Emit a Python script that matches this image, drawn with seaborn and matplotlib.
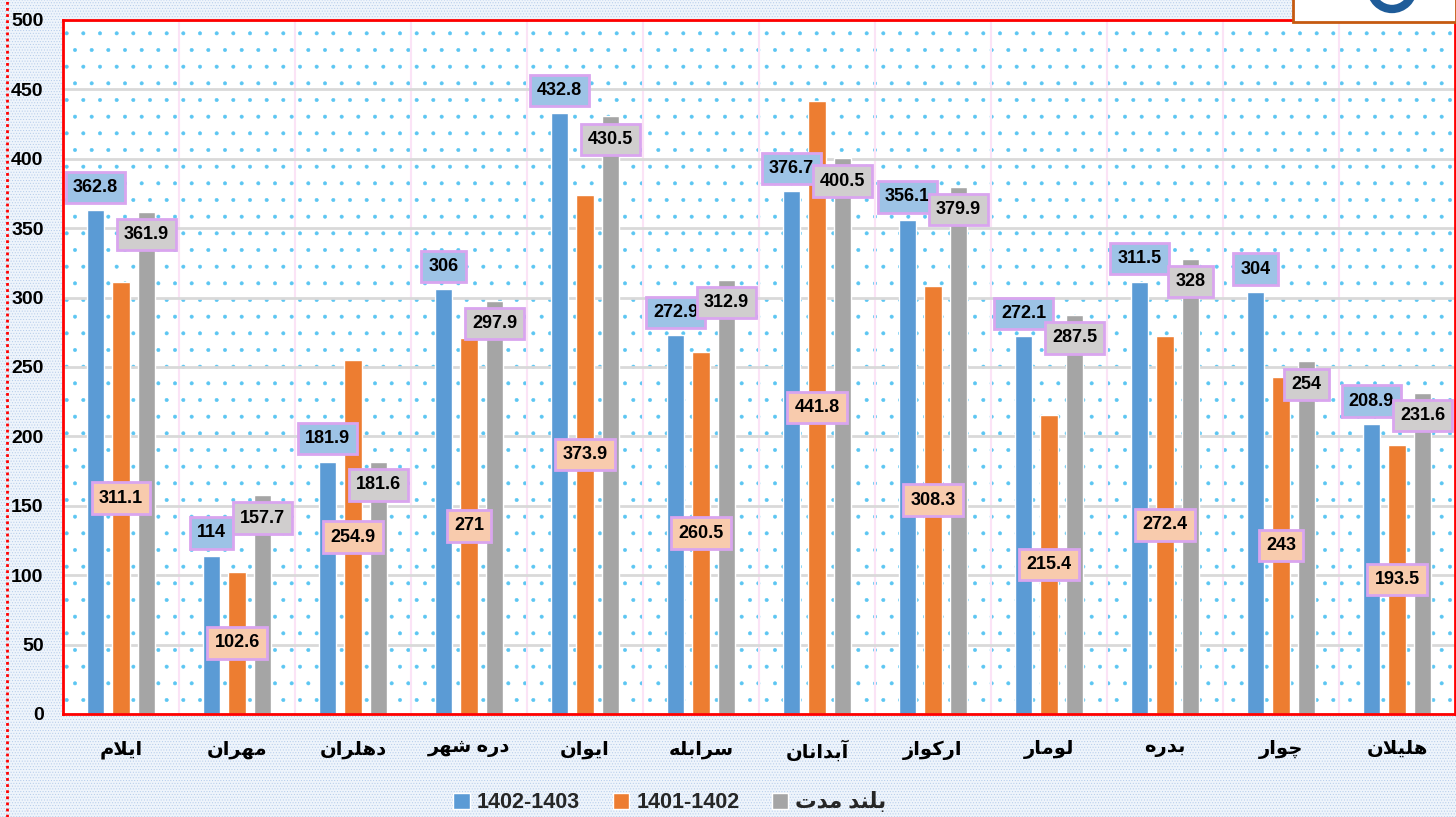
import numpy as np
import pandas as pd
import matplotlib
matplotlib.use('Agg')
import matplotlib.pyplot as plt
import seaborn as sns
from matplotlib.patches import Rectangle, Ellipse
from matplotlib.lines import Line2D
from matplotlib import font_manager

# ---------------- data ----------------
cities = ['ایلام', 'مهران', 'دهلران', 'دره شهر', 'ایوان', 'سرابله',
          'آبدانان', 'ارکواز', 'لومار', 'بدره', 'چوار', 'هلیلان']
series_names = ['1402-1403', '1401-1402', 'بلند مدت']
v_1402_1403 = [362.8, 114, 181.9, 306, 432.8, 272.9, 376.7, 356.1, 272.1, 311.5, 304, 208.9]
v_1401_1402 = [311.1, 102.6, 254.9, 271, 373.9, 260.5, 441.8, 308.3, 215.4, 272.4, 243, 193.5]
v_long_term = [361.9, 157.7, 181.6, 297.9, 430.5, 312.9, 400.5, 379.9, 287.5, 328, 254, 231.6]
y_ticks = [0, 50, 100, 150, 200, 250, 300, 350, 400, 450, 500]

bar_colors = ['#5b9bd5', '#ed7d31', '#a5a5a5']
label_fills = ['#9dc3e6', '#f8cbad', '#d0cece']

# ---------------- minimal Arabic/Persian shaping ----------------
FORMS = {
    'ا': (0xFE8D, 0xFE8E, None, None),
    'آ': (0xFE81, 0xFE82, None, None),
    'ب': (0xFE8F, 0xFE90, 0xFE91, 0xFE92),
    'ت': (0xFE95, 0xFE96, 0xFE97, 0xFE98),
    'د': (0xFEA9, 0xFEAA, None, None),
    'ر': (0xFEAD, 0xFEAE, None, None),
    'ز': (0xFEAF, 0xFEB0, None, None),
    'س': (0xFEB1, 0xFEB2, 0xFEB3, 0xFEB4),
    'ش': (0xFEB5, 0xFEB6, 0xFEB7, 0xFEB8),
    'ل': (0xFEDD, 0xFEDE, 0xFEDF, 0xFEE0),
    'م': (0xFEE1, 0xFEE2, 0xFEE3, 0xFEE4),
    'ن': (0xFEE5, 0xFEE6, 0xFEE7, 0xFEE8),
    'ه': (0xFEE9, 0xFEEA, 0xFEEB, 0xFEEC),
    'و': (0xFEED, 0xFEEE, None, None),
    'ی': (0xFBFC, 0xFBFD, 0xFBFE, 0xFBFF),
    'ک': (0xFB8E, 0xFB8F, 0xFB90, 0xFB91),
    'چ': (0xFB7A, 0xFB7B, 0xFB7C, 0xFB7D),
}
LAM_ALEF = {'ا': (0xFEFB, 0xFEFC), 'آ': (0xFEF5, 0xFEF6)}


def _dual(ch):
    return ch in FORMS and FORMS[ch][2] is not None


def shape(text):
    if not any(ch in FORMS for ch in text):
        return text
    out = []
    n = len(text)
    i = 0
    while i < n:
        ch = text[i]
        if ch not in FORMS:
            out.append(ch)
            i += 1
            continue
        prev = text[i - 1] if i > 0 else ''
        jp = _dual(prev)
        if ch == 'ل' and i + 1 < n and text[i + 1] in LAM_ALEF:
            out.append(chr(LAM_ALEF[text[i + 1]][1 if jp else 0]))
            i += 2
            continue
        nxt = text[i + 1] if i + 1 < n else ''
        jn = _dual(ch) and nxt in FORMS
        f = FORMS[ch]
        if jp and jn:
            c = f[3]
        elif jp:
            c = f[1]
        elif jn:
            c = f[2]
        else:
            c = f[0]
        out.append(chr(c))
        i += 1
    return ''.join(reversed(out))


# ---------------- dataframe ----------------
shaped_cities = [shape(c) for c in cities]
shaped_series = [shape(s) for s in series_names]
rows = []
for s, vals in zip(shaped_series, [v_1402_1403, v_1401_1402, v_long_term]):
    for c, v in zip(shaped_cities, vals):
        rows.append({'city': c, 'series': s, 'value': v})
df = pd.DataFrame(rows)

# ---------------- style ----------------
sns.set_theme(style='white')
installed = {f.name for f in font_manager.fontManager.ttflist}
latin = [f for f in ['Liberation Sans Narrow', 'Liberation Sans'] if f in installed]
FAM = latin + ['DejaVu Sans']
plt.rcParams['font.family'] = FAM
plt.rcParams['hatch.linewidth'] = 0.4

fig = plt.figure(figsize=(14.56, 8.17), dpi=100)
fig.patch.set_facecolor('#e1ebf7')
bg = Rectangle((0, 0), 1, 1, transform=fig.transFigure, facecolor='#eef4fb',
               edgecolor='#b3cbea', hatch='......', lw=0, zorder=-5)
fig.add_artist(bg)

ax = fig.add_axes([63 / 1456, 1 - 714 / 817, 1 - 63 / 1456 - 1 / 1456, (714 - 20) / 817])
ax.set_facecolor('white')
dots = Rectangle((0, 0), 1, 1, transform=ax.transAxes, facecolor='white',
                 edgecolor='#5cc6f2', hatch='.', lw=0, zorder=0)
ax.add_patch(dots)

sns.barplot(data=df, x='city', y='value', hue='series', hue_order=shaped_series,
            order=shaped_cities, palette=bar_colors, width=0.66, gap=0.33,
            errorbar=None, ax=ax, saturation=1, zorder=2)

handles, labels = ax.get_legend_handles_labels()
if ax.get_legend() is not None:
    ax.get_legend().remove()

# data labels
for k, cont in enumerate(ax.containers):
    for bar in cont:
        h = bar.get_height()
        xc = bar.get_x() + bar.get_width() / 2
        txt = f'{h:g}'
        if k == 0:
            xy, off = (xc, h), (0, 16.5)
        elif k == 1:
            xy, off = (xc, h / 2), (0, 0)
        else:
            xy, off = (xc, h), (0, -16.5)
        ax.annotate(txt, xy=xy, xytext=off, textcoords='offset points',
                    ha='center', va='center', fontsize=13, fontweight='bold',
                    color='black', zorder=5,
                    bbox=dict(boxstyle='square,pad=0.4', facecolor=label_fills[k],
                              edgecolor='#d9a5ef', linewidth=2))

ax.set_ylim(0, 500)
ax.set_xlim(-0.5, len(cities) - 0.5)
ax.set_yticks(y_ticks)
ax.set_yticklabels([str(t) for t in y_ticks], fontsize=14, fontweight='bold', color='black')
for lbl in ax.get_xticklabels():
    lbl.set_fontsize(14)
    lbl.set_fontweight('bold')
    lbl.set_color('black')
ax.set_xlabel('')
ax.set_ylabel('')
ax.tick_params(axis='both', length=0)
ax.tick_params(axis='y', pad=14)
ax.tick_params(axis='x', pad=19)

ax.set_axisbelow(True)
ax.yaxis.grid(True, color='#d9d9d9', lw=2, zorder=1)
ax.set_xticks(np.arange(len(cities) - 1) + 0.5, minor=True)
ax.xaxis.grid(True, which='minor', color='#fbe3f6', lw=1.5)
ax.xaxis.grid(False, which='major')
for sp in ax.spines.values():
    sp.set_visible(True)
    sp.set_color('#ff0000')
    sp.set_linewidth(2)

# legend
leg = fig.legend(handles, labels, loc='center', bbox_to_anchor=(670 / 1456, 1 - 803 / 817),
                 ncol=3, frameon=False, handlelength=0.75, handleheight=0.75,
                 handletextpad=0.35, columnspacing=1.5,
                 prop={'family': FAM, 'weight': 'bold', 'size': 15.5})

# left dotted border
fig.add_artist(Line2D([7 / 1456, 7 / 1456], [0, 1], transform=fig.transFigure,
                      color='#ff0000', lw=2, ls=(0, (1, 1.2)), zorder=3))

# logo box (top-right)
logo = Rectangle((1293 / 1456, 1 - 22 / 817), (1456 - 1293) / 1456, 24 / 817,
                 transform=fig.transFigure, facecolor='white', edgecolor='#c55a11',
                 lw=2, zorder=10)
fig.add_artist(logo)
ring = Ellipse((1392 / 1456, 1 + 12 / 817), 42 / 1456, 42 / 817, transform=fig.transFigure,
               facecolor='none', edgecolor='#1f5c99', lw=6, zorder=11)
fig.add_artist(ring)
ring.set_clip_path(logo)

fig.savefig('out.png', dpi=100)
